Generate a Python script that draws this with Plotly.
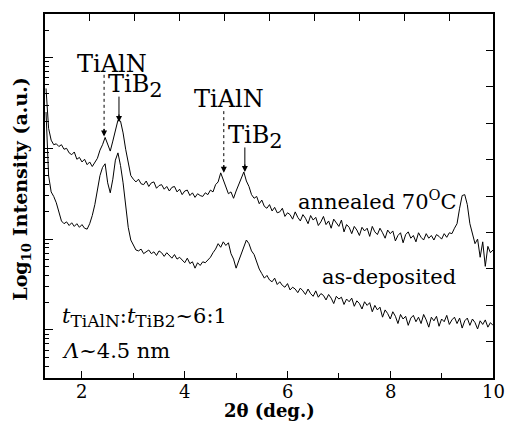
import plotly.graph_objects as go

# 2-theta sampling positions (deg.)
two_theta = [
    1.30, 1.35, 1.40, 1.45, 1.50, 1.55, 1.60, 1.65, 1.70, 1.75,
    1.80, 1.85, 1.90, 1.95, 2.00, 2.05, 2.10, 2.15, 2.20, 2.25,
    2.30, 2.35, 2.40, 2.45, 2.50, 2.55, 2.60, 2.65, 2.70, 2.75,
    2.80, 2.85, 2.90, 2.95, 3.00, 3.05, 3.10, 3.15, 3.20, 3.25,
    3.30, 3.35, 3.40, 3.45, 3.50, 3.55, 3.60, 3.65, 3.70, 3.75,
    3.80, 3.85, 3.90, 3.95, 4.00, 4.05, 4.10, 4.15, 4.20, 4.25,
    4.30, 4.35, 4.40, 4.45, 4.50, 4.55, 4.60, 4.65, 4.70, 4.75,
    4.80, 4.85, 4.90, 4.95, 5.00, 5.05, 5.10, 5.15, 5.20, 5.25,
    5.30, 5.35, 5.40, 5.45, 5.50, 5.55, 5.60, 5.65, 5.70, 5.75,
    5.80, 5.85, 5.90, 5.95, 6.00, 6.05, 6.10, 6.15, 6.20, 6.25,
    6.30, 6.35, 6.40, 6.45, 6.50, 6.55, 6.60, 6.65, 6.70, 6.75,
    6.80, 6.85, 6.90, 6.95, 7.00, 7.05, 7.10, 7.15, 7.20, 7.25,
    7.30, 7.35, 7.40, 7.45, 7.50, 7.55, 7.60, 7.65, 7.70, 7.75,
    7.80, 7.85, 7.90, 7.95, 8.00, 8.05, 8.10, 8.15, 8.20, 8.25,
    8.30, 8.35, 8.40, 8.45, 8.50, 8.55, 8.60, 8.65, 8.70, 8.75,
    8.80, 8.85, 8.90, 8.95, 9.00, 9.05, 9.10, 9.15, 9.20, 9.25,
    9.30, 9.35, 9.40, 9.45, 9.50, 9.55, 9.60, 9.65, 9.70, 9.75,
    9.80, 9.85, 9.90, 9.95, 10.00,
]

# log10 intensity (a.u.), annealed 70 C
log_annealed = [
    3.66, 3.22, 3.09, 3.04, 3.05, 3.02, 3.04, 2.99, 3.00, 2.95,
    2.93, 2.96, 2.88, 2.90, 2.85, 2.88, 2.82, 2.85, 2.80, 2.84,
    2.89, 2.98, 3.04, 3.12, 3.05, 2.97, 3.08, 3.19, 3.31, 3.30,
    3.17, 2.99, 2.83, 2.70, 2.66, 2.63, 2.66, 2.61, 2.60, 2.64,
    2.58, 2.62, 2.63, 2.56, 2.59, 2.60, 2.55, 2.58, 2.53, 2.57,
    2.58, 2.52, 2.55, 2.49, 2.53, 2.54, 2.48, 2.51, 2.46, 2.50,
    2.48, 2.47, 2.51, 2.49, 2.54, 2.52, 2.60, 2.63, 2.73, 2.66,
    2.58, 2.50, 2.52, 2.45, 2.53, 2.60, 2.65, 2.74, 2.64, 2.58,
    2.49, 2.45, 2.47, 2.39, 2.43, 2.36, 2.34, 2.38, 2.31, 2.35,
    2.29, 2.30, 2.34, 2.25, 2.29, 2.27, 2.22, 2.30, 2.24, 2.20,
    2.27, 2.23, 2.17, 2.26, 2.21, 2.24, 2.15, 2.19, 2.25, 2.16,
    2.20, 2.12, 2.22, 2.18, 2.14, 2.21, 2.08, 2.16, 2.13, 2.06,
    2.14, 2.10, 2.04, 2.13, 2.09, 2.12, 2.03, 2.14, 2.08, 2.05,
    2.12, 2.07, 2.01, 2.10, 2.06, 2.09, 1.98, 2.04, 2.07, 1.96,
    2.05, 2.08, 2.01, 2.04, 1.97, 2.07, 2.02, 1.99, 2.06, 2.01,
    2.04, 1.99, 2.05, 2.03, 2.00, 2.06, 2.02, 2.07, 2.06, 2.12,
    2.17, 2.34, 2.48, 2.49, 2.38, 2.17, 2.05, 1.95, 2.00, 1.80,
    1.97, 1.70, 1.92, 1.85, 1.88,
]

# log10 intensity (a.u.), as-deposited
log_as_deposited = [
    3.40, 2.70, 2.52, 2.47, 2.40, 2.31, 2.20, 2.17, 2.19, 2.15,
    2.18, 2.14, 2.17, 2.13, 2.16, 2.12, 2.11, 2.17, 2.26, 2.38,
    2.55, 2.70, 2.79, 2.83, 2.62, 2.51, 2.66, 2.87, 2.95, 2.81,
    2.62, 2.36, 2.13, 1.99, 1.93, 1.88, 1.87, 1.89, 1.84, 1.86,
    1.88, 1.84, 1.86, 1.82, 1.87, 1.85, 1.81, 1.85, 1.82, 1.79,
    1.83, 1.78, 1.80, 1.77, 1.74, 1.79, 1.73, 1.75, 1.68, 1.74,
    1.71, 1.75, 1.74, 1.77, 1.80, 1.85, 1.89, 1.95, 1.91, 1.97,
    1.93, 1.96, 1.84, 1.78, 1.68, 1.76, 1.83, 1.90, 1.99, 1.95,
    1.87, 1.83, 1.74, 1.67, 1.62, 1.57, 1.60, 1.55, 1.53, 1.57,
    1.50, 1.53, 1.49, 1.47, 1.51, 1.44, 1.47, 1.45, 1.41, 1.46,
    1.43, 1.39, 1.45, 1.40, 1.37, 1.43, 1.36, 1.40, 1.38, 1.33,
    1.39, 1.35, 1.29, 1.37, 1.34, 1.36, 1.28, 1.34, 1.31, 1.35,
    1.26, 1.32, 1.29, 1.23, 1.31, 1.27, 1.30, 1.20, 1.27, 1.22,
    1.25, 1.14, 1.22, 1.18, 1.12, 1.20, 1.15, 1.07, 1.17, 1.12,
    1.15, 1.05, 1.13, 1.16, 1.09, 1.14, 1.07, 1.17, 1.11, 1.03,
    1.14, 1.10, 1.15, 1.04, 1.12, 1.09, 1.16, 1.06, 1.11, 1.14,
    1.07, 1.13, 1.02, 1.10, 1.13, 1.05, 1.12, 1.08, 1.01, 1.10,
    1.06, 1.11, 1.03, 1.08, 1.05,
]

x_ticks = [2, 4, 6, 8, 10]
x_tick_text = ["2", "4", "6", "8", "10"]
x_minor = [3, 5, 7, 9]

SERIF = "DejaVu Serif"
fig = go.Figure()

fig.add_trace(go.Scatter(x=two_theta, y=[10 ** v for v in log_annealed],
                         mode="lines", line=dict(color="black", width=1),
                         showlegend=False, hoverinfo="skip"))
fig.add_trace(go.Scatter(x=two_theta, y=[10 ** v for v in log_as_deposited],
                         mode="lines", line=dict(color="black", width=1),
                         showlegend=False, hoverinfo="skip"))

# peak marker arrows: (x, y_top_log, y_tip_log, dash)
arrows = [
    (2.43, 3.81, 3.13, "dot"),
    (2.72, 3.57, 3.29, "solid"),
    (4.76, 3.41, 2.73, "dot"),
    (5.17, 3.01, 2.74, "solid"),
]
for ax_x, ytop, ytip, dash in arrows:
    fig.add_trace(go.Scatter(x=[ax_x, ax_x], y=[10 ** ytop, 10 ** (ytip + 0.06)],
                             mode="lines", line=dict(color="black", width=1, dash=dash),
                             showlegend=False, hoverinfo="skip"))
    fig.add_annotation(x=ax_x, y=ytip, xref="x", yref="y", text="",
                       showarrow=True, arrowhead=2, arrowsize=1.0, arrowwidth=1.2,
                       arrowcolor="black", ax=0, ay=-9, standoff=0)

# dummy trace so the top/right tick axes are drawn
fig.add_trace(go.Scatter(x=[None], y=[None], xaxis="x2", yaxis="y2",
                         showlegend=False, hoverinfo="skip"))

big = dict(family=SERIF, size=24, color="black")
med = dict(family=SERIF, size=21, color="black")
sub2 = "<sub><span style='font-size:21px'>2</span></sub>"
labels = [
    (2.58, 3.93, "TiAlN", big),
    (3.05, 3.69, "TiB" + sub2, big),
    (4.87, 3.54, "TiAlN", big),
    (5.38, 3.13, "TiB" + sub2, big),
    (7.75, 2.43, "annealed 70<sup>O</sup>C", med),
    (7.98, 1.58, "as-deposited", med),
]
for lx, ly, txt, fnt in labels:
    fig.add_annotation(x=lx, y=ly, xref="x", yref="y", text=txt, showarrow=False,
                       font=fnt, xanchor="center", yanchor="middle")

fig.add_annotation(x=1.58, y=1.14, xref="x", yref="y",
                   text=("<i>t</i><sub><span style='font-size:17px'>TiAlN</span></sub>:"
                         "<i>t</i><sub><span style='font-size:17px'>TiB2</span></sub>~6:1"),
                   showarrow=False, font=dict(family=SERIF, size=21, color="black"),
                   xanchor="left", yanchor="middle")
fig.add_annotation(x=1.58, y=0.77, xref="x", yref="y",
                   text="<i>Λ</i>~4.5 nm",
                   showarrow=False, font=dict(family=SERIF, size=21, color="black"),
                   xanchor="left", yanchor="middle")

# x tick labels
for tv, tt in zip(x_ticks, x_tick_text):
    fig.add_annotation(x=tv, y=-13 / 364, xref="x", yref="paper", text=tt,
                       showarrow=False, font=dict(family=SERIF, size=18, color="black"),
                       xanchor="center", yanchor="middle")

# axis titles
fig.add_annotation(x=-23 / 448, y=0.52, xref="paper", yref="paper",
                   text="<b>Log<sub>10</sub> Intensity (a.u.)</b>", textangle=-90,
                   showarrow=False, font=dict(family=SERIF, size=19, color="black"),
                   xanchor="center", yanchor="middle")
fig.add_annotation(x=0.5, y=-33 / 364, xref="paper", yref="paper",
                   text="<b>2θ (deg.)</b>",
                   showarrow=False, font=dict(family=SERIF, size=18, color="black"),
                   xanchor="center", yanchor="middle")

log_minor = [m * 10 ** d for d in range(0, 5) for m in range(2, 10)]

fig.update_layout(
    width=505, height=428,
    margin=dict(l=45, r=12, t=14, b=50),
    paper_bgcolor="white", plot_bgcolor="white",
    font=dict(family=SERIF, color="black"),
    xaxis=dict(range=[1.28, 10.0], showline=True, linecolor="black", linewidth=1.5,
               mirror=True, ticks="inside", ticklen=7, tickwidth=1.2, tickcolor="black",
               tickvals=x_ticks, showticklabels=False, showgrid=False, zeroline=False,
               automargin=False,
               minor=dict(ticks="inside", ticklen=5, tickwidth=1.2, tickcolor="black",
                          tickvals=x_minor, showgrid=False)),
    yaxis=dict(type="log", range=[0.47, 4.48], showline=True, linecolor="black",
               linewidth=1.5, mirror=True, ticks="inside", ticklen=8, tickwidth=1.2,
               tickcolor="black", dtick=1, showticklabels=False, showgrid=False,
               zeroline=False, automargin=False,
               minor=dict(ticks="inside", ticklen=4, tickwidth=1, tickcolor="black",
                          tickvals=log_minor, showgrid=False)),
    xaxis2=dict(overlaying="x", side="top", anchor="y2", range=[0, 9.98],
                tickvals=[1, 2, 3, 4, 5, 6, 7, 8, 9], ticks="inside", ticklen=7,
                tickwidth=1.2, tickcolor="black", showticklabels=False, automargin=False,
                showline=False, showgrid=False, zeroline=False),
    yaxis2=dict(overlaying="y", side="right", anchor="x2", range=[0, 10],
                tickvals=[1, 2, 3, 4, 5, 6, 7, 8, 9], ticks="inside", ticklen=7,
                tickwidth=1.2, tickcolor="black", showticklabels=False, automargin=False,
                showline=False, showgrid=False, zeroline=False),
)

fig.write_html("out.html")
